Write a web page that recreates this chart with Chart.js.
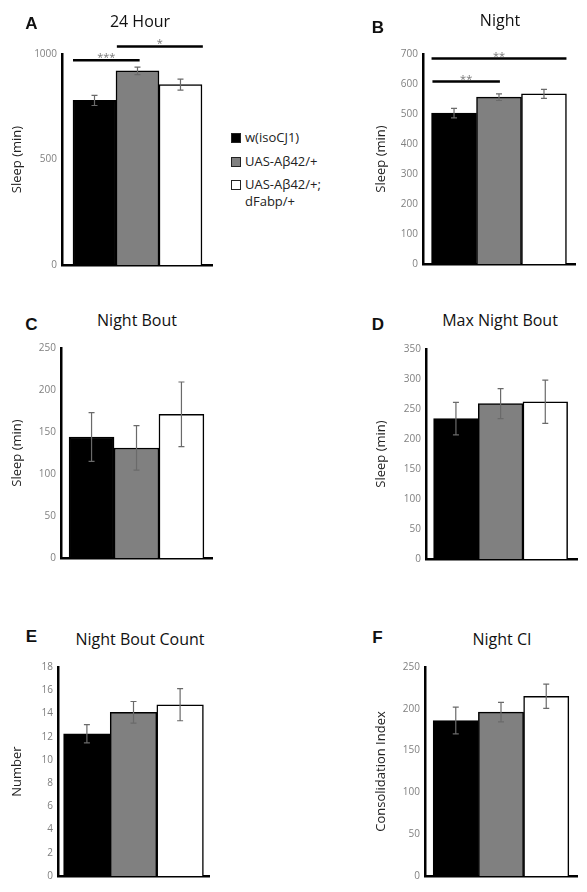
<!DOCTYPE html>
<html>
<head>
<meta charset="utf-8">
<script src="https://cdn.jsdelivr.net/npm/chart.js@4.4.0/dist/chart.umd.min.js"></script>
<style>
  body { margin: 0; background: #fff; width: 587px; height: 892px; position: relative; overflow: hidden; font-family: 'Open Sans', sans-serif; }
  canvas { position: absolute; }
  .title { position: absolute; transform: translate(-50%, -50%); font-size: 16px; line-height: 1; color: #111; white-space: nowrap; }
  .letter { position: absolute; transform: translate(-50%, -50%); font-family: 'Liberation Sans', sans-serif; font-size: 17px; font-weight: bold; line-height: 1; color: #111; }
  #legend { position: absolute; left: 231px; top: 131px; font-size: 13px; line-height: 1; color: #222; }
  .item { position: absolute; left: 0; white-space: nowrap; }
  .sw { position: absolute; left: 0; width: 8px; height: 8px; border: 1px solid #222; }
  .lbl { position: absolute; left: 14px; top: 0; }
</style>
</head>
<body>
<div id="legend"></div>
<script>
// groups and colours
const groups = ['w(isoCJ1)', 'UAS-Aβ42/+', 'UAS-Aβ42/+;|dFabp/+'];
const barColors = ['#000000', '#808080', '#ffffff'];

// values (mean, sem)
const sleep24h = [780, 920, 855];
const sleep24hSem = [24, 18, 26];
const sleepNight = [503, 556, 567];
const sleepNightSem = [16, 11, 15];
const nightBout = [144, 131, 171];
const nightBoutSem = [29, 26.5, 38.5];
const maxNightBout = [234, 259, 262];
const maxNightBoutSem = [27, 25, 36];
const nightBoutCount = [12.25, 14.1, 14.75];
const nightBoutCountSem = [0.78, 0.93, 1.38];
const nightCI = [186, 196, 215];
const nightCISem = [16, 11.6, 14.5];

// y axis ticks
const yMax = [1000, 700, 250, 350, 18, 250];
const yStep = [500, 100, 50, 50, 2, 50];

// significance brackets (from/to in bar units, level in data units)
const sig24h = [
  { label: '***', from: -0.5, to: 1.05, level: 970 },
  { label: '*', from: 0.52, to: 2.52, level: 1036 }
];
const sigNight = [
  { label: '**', from: -0.48, to: 1.02, level: 608 },
  { label: '**', from: -0.5, to: 2.5, level: 685 }
];

const panels = [
  { letter: 'A', title: '24 Hour', yLabel: 'Sleep (min)', means: sleep24h, sem: sleep24hSem, sig: sig24h },
  { letter: 'B', title: 'Night', yLabel: 'Sleep (min)', means: sleepNight, sem: sleepNightSem, sig: sigNight },
  { letter: 'C', title: 'Night Bout', yLabel: 'Sleep (min)', means: nightBout, sem: nightBoutSem, sig: [] },
  { letter: 'D', title: 'Max Night Bout', yLabel: 'Sleep (min)', means: maxNightBout, sem: maxNightBoutSem, sig: [] },
  { letter: 'E', title: 'Night Bout Count', yLabel: 'Number', means: nightBoutCount, sem: nightBoutCountSem, sig: [] },
  { letter: 'F', title: 'Night CI', yLabel: 'Consolidation Index', means: nightCI, sem: nightCISem, sig: [] }
];

// placement on the page
const boxes = [
  { col: 0, axisX: 62, top: 54, zero: 268, right: 212, xMin: -0.756, xMax: 2.733, padTop: 26, tx: 140, ty: 21, lx: 31.5, ly: 22.5, yt: 17.5 },
  { col: 365, axisX: 423, top: 54, zero: 267, right: 575, xMin: -0.69, xMax: 2.69, padTop: 26, tx: 500, ty: 20, lx: 378, ly: 26.5, yt: 380.8 },
  { col: 0, axisX: 61, top: 347, zero: 561, right: 212, xMin: -0.68, xMax: 2.68, padTop: 10, tx: 137, ty: 320, lx: 31.5, ly: 324, yt: 17.5 },
  { col: 365, axisX: 426, top: 348, zero: 562, right: 577, xMin: -0.67, xMax: 2.71, padTop: 10, tx: 500, ty: 320, lx: 378, ly: 324, yt: 380.8 },
  { col: 0, axisX: 58, top: 666, zero: 879, right: 209, xMin: -0.62, xMax: 2.62, padTop: 10, tx: 140, ty: 639, lx: 31.5, ly: 636, yt: 17.5 },
  { col: 365, axisX: 425, top: 666, zero: 879, right: 577, xMin: -0.68, xMax: 2.68, padTop: 10, tx: 502, ty: 639, lx: 377.5, ly: 637, yt: 380.8 }
];

const errorBars = {
  id: 'errorBars',
  afterDatasetsDraw(chart, args, opts) {
    const { ctx, scales: { x, y } } = chart;
    const vals = chart.data.datasets[0].data;
    ctx.save();
    ctx.strokeStyle = '#6a6a6a';
    ctx.lineWidth = 1.2;
    vals.forEach((d, i) => {
      const px = x.getPixelForValue(d.x);
      const hi = y.getPixelForValue(d.y + opts.sem[i]);
      const lo = y.getPixelForValue(d.y - opts.sem[i]);
      ctx.beginPath();
      ctx.moveTo(px, hi); ctx.lineTo(px, lo);
      ctx.moveTo(px - 3, hi); ctx.lineTo(px + 3, hi);
      ctx.moveTo(px - 3, lo); ctx.lineTo(px + 3, lo);
      ctx.stroke();
    });
    opts.sig.forEach(s => {
      const x1 = x.getPixelForValue(s.from);
      const x2 = x.getPixelForValue(s.to);
      const py = y.getPixelForValue(s.level);
      ctx.strokeStyle = '#000';
      ctx.lineWidth = 2.5;
      ctx.beginPath();
      ctx.moveTo(x1, py); ctx.lineTo(x2, py);
      ctx.stroke();
      ctx.fillStyle = '#777';
      ctx.font = '11px "Open Sans"';
      ctx.textAlign = 'center';
      ctx.textBaseline = 'alphabetic';
      ctx.fillText(s.label, (x1 + x2) / 2, py + 1);
    });
    ctx.restore();
  }
};

panels.forEach((p, k) => {
  const b = boxes[k];
  const cTop = b.top - b.padTop;
  const cv = document.createElement('canvas');
  cv.width = b.right - b.col + 6;
  cv.height = b.zero - cTop + 8;
  cv.style.left = b.col + 'px';
  cv.style.top = cTop + 'px';
  document.body.appendChild(cv);

  const t = document.createElement('div');
  t.className = 'title';
  t.style.left = b.tx + 'px';
  t.style.top = b.ty + 'px';
  t.textContent = p.title;
  document.body.appendChild(t);

  const l = document.createElement('div');
  l.className = 'letter';
  l.style.left = b.lx + 'px';
  l.style.top = b.ly + 'px';
  l.textContent = p.letter;
  document.body.appendChild(l);

  new Chart(cv, {
    type: 'bar',
    data: {
      datasets: [{
        data: p.means.map((v, i) => ({ x: i, y: v })),
        backgroundColor: barColors,
        borderColor: '#000',
        borderWidth: 1.5,
        barPercentage: 1,
        categoryPercentage: 1
      }]
    },
    plugins: [errorBars],
    options: {
      responsive: false,
      animation: false,
      layout: { padding: { top: b.padTop, right: 6, bottom: 8, left: 0 } },
      plugins: {
        legend: { display: false },
        tooltip: { enabled: false },
        errorBars: { sem: p.sem, sig: p.sig }
      },
      scales: {
        x: {
          type: 'linear',
          offset: false,
          min: b.xMin,
          max: b.xMax,
          // one tick per bar so the bar ruler is one unit wide
          afterBuildTicks: s => { s.ticks = p.means.map((v, i) => ({ value: i })); },
          ticks: { display: false },
          grid: { display: false, drawTicks: false, offset: false },
          border: { display: true, color: '#000', width: 2.5 }
        },
        y: {
          min: 0,
          max: yMax[k],
          afterFit: s => { s.width = b.axisX - b.col; },
          ticks: { stepSize: yStep[k], color: '#808080', padding: 5, font: { family: 'Open Sans', size: 10 }, callback: v => String(v) },
          grid: { display: false, drawTicks: false },
          border: { display: true, color: '#000', width: 2.5 },
          title: {
            display: true,
            text: p.yLabel,
            color: '#222',
            font: { family: 'Open Sans', size: 13, lineHeight: 1 },
            padding: { top: b.yt - b.col - 6.5, bottom: 0 }
          }
        }
      }
    }
  });
});

// legend
const legendRows = [0, 24, 47];
const legend = document.getElementById('legend');
groups.forEach((g, i) => {
  const row = document.createElement('div');
  row.className = 'item';
  row.style.top = legendRows[i] + 'px';
  const sw = document.createElement('div');
  sw.className = 'sw';
  sw.style.background = barColors[i];
  sw.style.top = '2px';
  const tx = document.createElement('div');
  tx.className = 'lbl';
  tx.innerHTML = g.split('|').join('<br>');
  tx.style.lineHeight = '17px';
  tx.style.top = '-2px';
  row.appendChild(sw);
  row.appendChild(tx);
  legend.appendChild(row);
});
</script>
</body>
</html>
